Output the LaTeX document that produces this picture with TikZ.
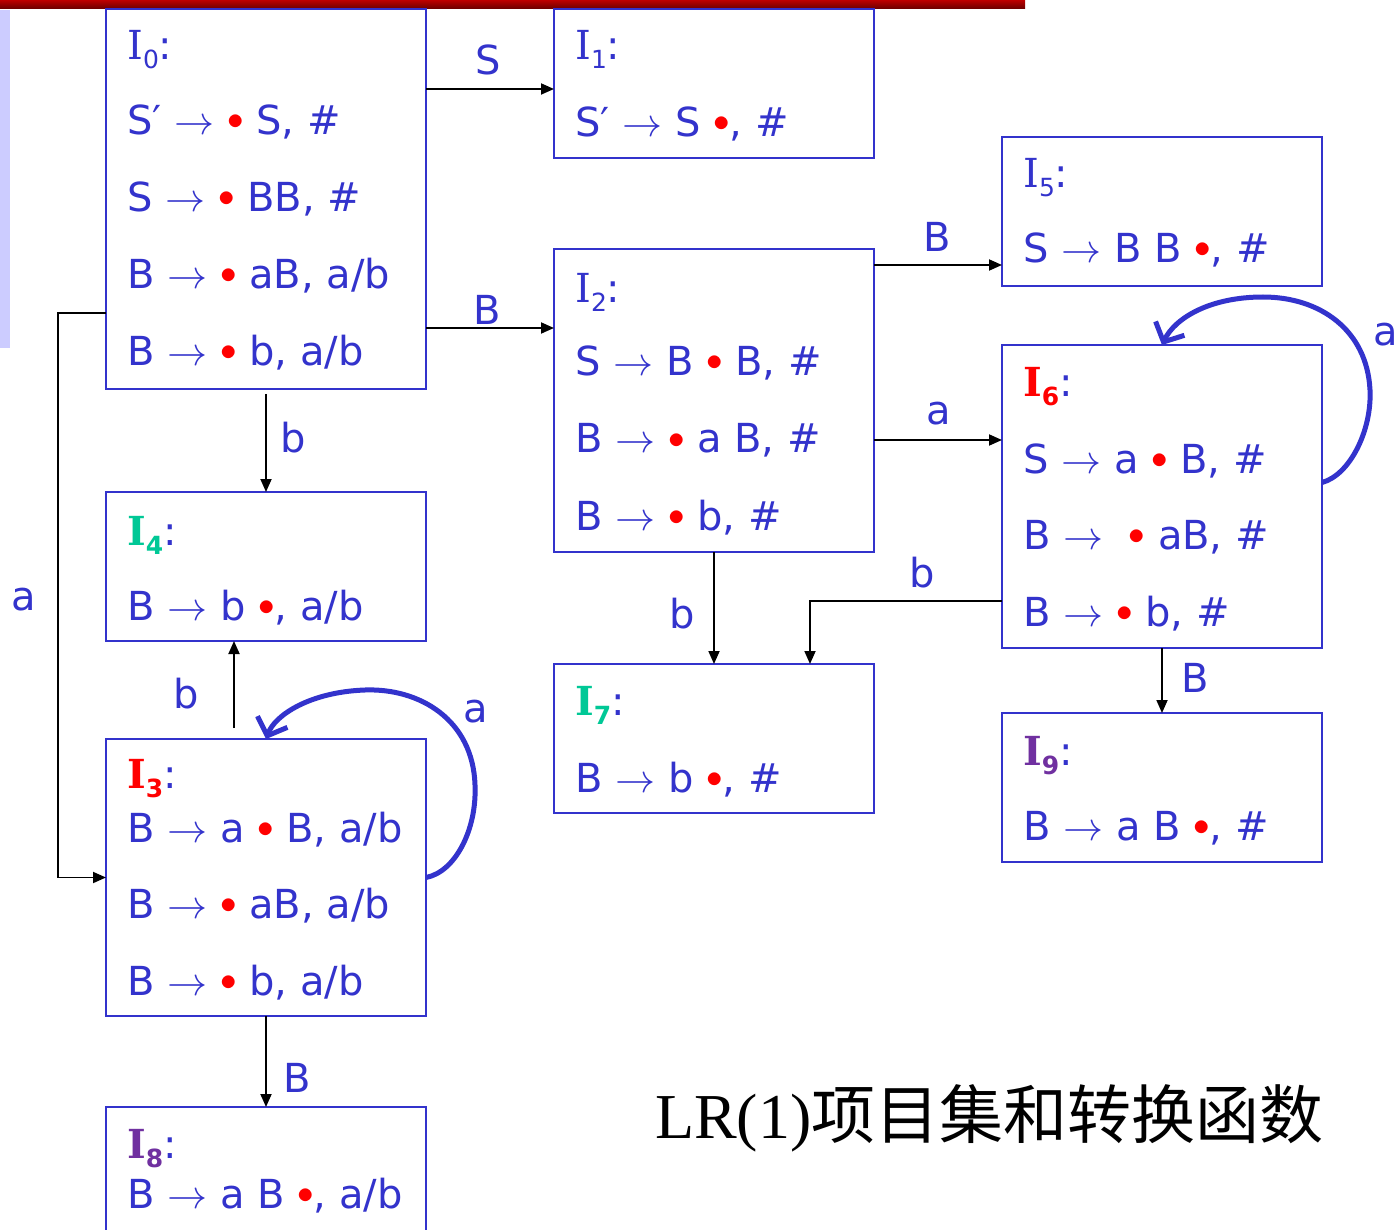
\documentclass[tikz,border=0pt]{standalone}
\usepackage{graphicx}
\usepackage{fontspec}
\setmainfont{DejaVu Sans}
\newfontfamily\ifont{DejaVu Serif}
\newfontfamily\cjk{Noto Sans CJK SC}
\newfontfamily\tserif{Liberation Serif}
\usetikzlibrary{arrows.meta}
\definecolor{myblue}{RGB}{51,51,204}
\definecolor{mygreen}{RGB}{0,200,150}
\definecolor{mypurple}{RGB}{112,48,160}
\definecolor{barred}{RGB}{190,0,0}
\definecolor{lav}{RGB}{204,204,255}
\newcommand\itemfont{\fontsize{40}{46}\selectfont}
\newcommand\dotr{\textcolor{red}{\raisebox{5pt}{\scalebox{3.3}{\normalsize$\bullet$}}}}
\newcommand\arw{\scalebox{4}{\normalsize$\rightarrow$}}
\newcommand\Ilab[3]{{\color{#1}{\ifont#3I}\raisebox{-9pt}{\fontsize{25}{25}\selectfont#3#2}}\textcolor{myblue}{:}}
\tikzset{
  box/.style={draw=myblue, line width=2pt, anchor=north west, minimum width=320pt, inner sep=0pt, outer sep=0pt},
  txt/.style={anchor=base west, inner sep=0pt, text=myblue, font=\itemfont},
  elab/.style={text=myblue, font=\itemfont, inner sep=0pt, anchor=center},
  arr/.style={draw=black, line width=1.8pt, -{Triangle[length=13pt,width=11pt]}},
  loopy/.style={draw=myblue, line width=5pt, -{Straight Barb[length=15pt,width=32pt]}},
}
\begin{document}
\begin{tikzpicture}[x=1pt,y=-1pt]
\clip (0,0) rectangle (1398,1230);
\fill[white] (0,0) rectangle (1398,1230);
% decorations
\shade[top color=barred, bottom color=barred!55!black] (0,0) rectangle (1025,9);
\fill[lav] (0,10) rectangle (10,348);
% boxes
\node[box, minimum height=380pt] (I0) at (106,9) {};
\node[box, minimum height=149pt] (I1) at (554,9) {};
\node[box, minimum height=149pt] (I5) at (1002,137) {};
\node[box, minimum height=303pt] (I2) at (554,249) {};
\node[box, minimum height=303pt] (I6) at (1002,345) {};
\node[box, minimum height=149pt] (I4) at (106,492) {};
\node[box, minimum height=277pt] (I3) at (106,739) {};
\node[box, minimum height=149pt] (I7) at (554,664) {};
\node[box, minimum height=149pt] (I9) at (1002,713) {};
\node[box, minimum height=149pt] (I8) at (106,1107) {};
% I0
\node[txt] (t0l) at (127,60) {\Ilab{myblue}{0}{\mdseries}};
\node[txt] (t0a) at (127,135) {S′ \arw\ \dotr\ S, \#};
\node[txt] (t0b) at (127,212) {S \arw\ \dotr\ BB, \#};
\node[txt] (t0c) at (127,289) {B \arw\ \dotr\ aB, a/b};
\node[txt] (t0d) at (127,366) {B \arw\ \dotr\ b, a/b};
% I1
\node[txt] (t1l) at (575,60) {\Ilab{myblue}{1}{\mdseries}};
\node[txt] (t1a) at (575,137) {S′ \arw\ S \dotr, \#};
% I5
\node[txt] (t5l) at (1023,188) {\Ilab{myblue}{5}{\mdseries}};
\node[txt] (t5a) at (1023,263) {S \arw\ B B \dotr, \#};
% I2
\node[txt] (t2l) at (575,303) {\Ilab{myblue}{2}{\mdseries}};
\node[txt] (t2a) at (575,376) {S \arw\ B \dotr\ B, \#};
\node[txt] (t2b) at (575,453) {B \arw\ \dotr\ a B, \#};
\node[txt] (t2c) at (575,530) {B \arw\ \dotr\ b, \#};
% I6
\node[txt] (t6l) at (1023,397) {\Ilab{red}{6}{\bfseries}};
\node[txt] (t6a) at (1023,473) {S \arw\ a \dotr\ B, \#};
\node[txt] (t6b) at (1023,549) {B \arw\ \ \dotr\ aB, \#};
\node[txt] (t6c) at (1023,626) {B \arw\ \dotr\ b, \#};
% I4
\node[txt] (t4l) at (127,545) {\Ilab{mygreen}{4}{\bfseries}};
\node[txt] (t4a) at (127,620) {B \arw\ b \dotr, a/b};
% I3
\node[txt] (t3l) at (127,788) {\Ilab{red}{3}{\bfseries}};
\node[txt] (t3a) at (127,842) {B \arw\ a \dotr\ B, a/b};
\node[txt] (t3b) at (127,918) {B \arw\ \dotr\ aB, a/b};
\node[txt] (t3c) at (127,995) {B \arw\ \dotr\ b, a/b};
% I7
\node[txt] (t7l) at (575,715) {\Ilab{mygreen}{7}{\bfseries}};
\node[txt] (t7a) at (575,792) {B \arw\ b \dotr, \#};
% I9
\node[txt] (t9l) at (1023,765) {\Ilab{mypurple}{9}{\bfseries}};
\node[txt] (t9a) at (1023,840) {B \arw\ a B \dotr, \#};
% I8
\node[txt] (t8l) at (127,1158) {\Ilab{mypurple}{8}{\bfseries}};
\node[txt] (t8a) at (127,1208) {B \arw\ a B \dotr, a/b};
% title
\node[anchor=base west, inner sep=0pt] (title) at (655,1138) {\tserif\fontsize{64}{70}\selectfont LR(1)\cjk 项目集和转换函数};
% connectors
\coordinate (e01) at ([yshift=110pt]I0.east);
\draw[arr] (e01) -- (e01 -| I1.west);
\coordinate (e02) at ([yshift=-129pt]I0.east);
\draw[arr] (e02) -- (e02 -| I2.west);
\draw[arr] ([yshift=-5pt]I0.south) -- (I4.north);
\draw[arr] ([yshift=-114pt]I0.west) -- ++(-48,0) |- (I3.west);
\draw[arr] ([xshift=-32pt,yshift=11pt]I3.north) -- ([xshift=-32pt]I4.south);
\draw[arr] (I3.south) -- (I8.north);
\coordinate (e25) at ([yshift=135.5pt]I2.east);
\draw[arr] (e25) -- (e25 -| I5.west);
\coordinate (e26) at ([yshift=-39.5pt]I2.east);
\draw[arr] (e26) -- (e26 -| I6.west);
\draw[arr] (I2.south) -- (I7.north);
\coordinate (e67) at ([yshift=-104.5pt]I6.west);
\draw[arr] (e67) -| ([xshift=96pt]I7.north);
\draw[arr] (I6.south) -- (I9.north);
% loops
\draw[loopy] (I3.east) .. controls (455,872) and (477,830) .. (475,785) .. controls (473,720) and (420,688) .. (365,690) .. controls (310,692) and (275,715) .. (I3.north);
\draw[loopy] ([yshift=14pt]I6.east) .. controls (1350,475) and (1372,430) .. (1370,390) .. controls (1367,330) and (1320,297) .. (1263,297) .. controls (1210,297) and (1175,318) .. (I6.north);
% edge labels
\node[elab] (l01) at (488,60) {S};
\node[elab] (l02) at (487,310) {B};
\node[elab] (l04) at (293,438) {b};
\node[elab] (l03) at (24,600) {a};
\node[elab] (l34) at (186,694) {b};
\node[elab] (l33) at (476,712) {a};
\node[elab] (l38) at (297,1078) {B};
\node[elab] (l25) at (937,237) {B};
\node[elab] (l26) at (939,414) {a};
\node[elab] (l27) at (682,614) {b};
\node[elab] (l67) at (922,573) {b};
\node[elab] (l66) at (1386,335) {a};
\node[elab] (l69) at (1195,678) {B};
\end{tikzpicture}
\end{document}
